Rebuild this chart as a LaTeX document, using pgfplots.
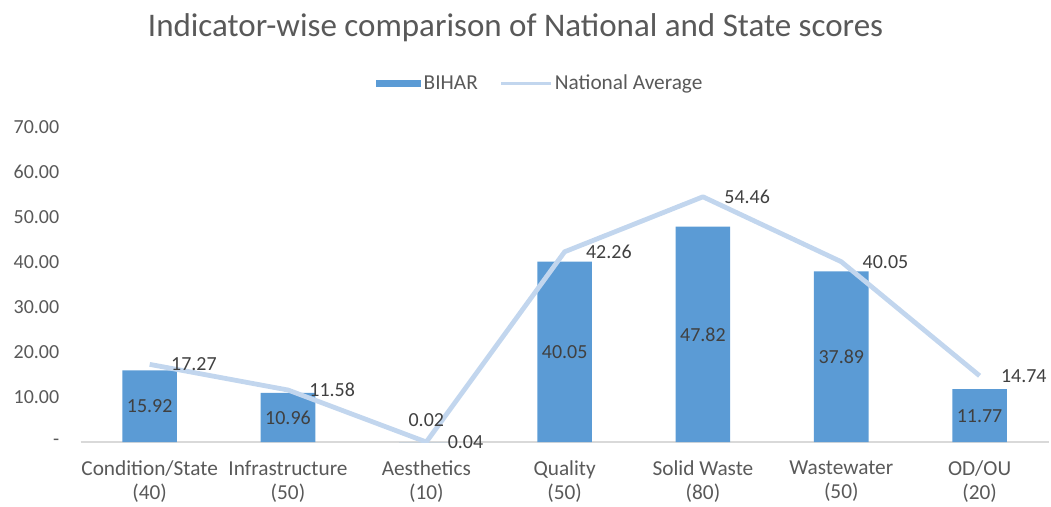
\documentclass[border=0pt]{standalone}
\usepackage{fontspec}
\setmainfont{Carlito}
\usepackage{pgfplots}
\pgfplotsset{compat=1.18}
\definecolor{barblue}{HTML}{5B9BD5}
\definecolor{lineblue}{HTML}{C2D6EE}
\definecolor{txt}{HTML}{595959}
\definecolor{lbl}{HTML}{404040}
\definecolor{axgray}{HTML}{D9D9D9}
\newcommand{\lblfont}{\fontsize{15}{18}\selectfont}
\newcommand{\catfont}{\fontsize{16}{18}\selectfont}

\begin{document}
\begin{tikzpicture}
\begin{axis}[
  at={(0,0)}, anchor=south west,
  scale only axis, width=727.5pt, height=237pt,
  xmin=-0.5, xmax=6.5, ymin=0, ymax=70,
  axis x line*=bottom, axis y line*=left,
  x axis line style={draw=axgray, line width=1.1pt},
  y axis line style={draw=none},
  major tick length=0pt,
  xtick={0,...,6},
  xticklabels={{Condition/State\\(40)},{Infrastructure\\(50)},{Aesthetics\\(10)},
    {Quality\\(50)},{Solid Waste\\(80)},{Wastewater\\(50)},{OD/OU\\(20)}},
  ytick={0,10,...,70},
  yticklabels={{\hphantom{00.0}-\hspace{7.5pt}},10.00,20.00,30.00,40.00,50.00,60.00,70.00},
  tick label style={font=\lblfont, text=txt},
  xticklabel style={align=center, font=\catfont, yshift=-10.5pt},
  yticklabel style={anchor=east, xshift=-12.5pt},
  /pgf/number format/fixed, /pgf/number format/zerofill,
  /pgf/number format/precision=2, /pgf/number format/assume math mode=true,
  legend style={at={(0.475,1.138)}, anchor=center, draw=none, fill=none,
    legend columns=2, font=\catfont, text=txt, inner sep=0pt,
    /tikz/every even column/.append style={column sep=14.5pt}},
  legend cell align=left,
]
% BIHAR bars, labels centred in the bar
\addplot[ybar, bar width=41pt, fill=barblue, draw=none,
  legend image code/.code={\fill[barblue] (0pt,-2.6pt) rectangle (34pt,2.6pt);},
  nodes near coords,
  visualization depends on={y \as \rawy},
  every node near coord/.append style={font=\lblfont, text=lbl, anchor=center,
    shift={(axis direction cs:0,{\rawy<1 ? 4.9 : -\rawy/2})}}]
  coordinates {(0,15.92) (1,10.96) (2,0.02) (3,40.05) (4,47.82) (5,37.89) (6,11.77)};
\addlegendentry{BIHAR}
% National average line, labels to the right
\addplot[lineblue, line width=3.6pt, line join=round, mark=none,
  legend image code/.code={\draw[lineblue, line width=2.4pt] (0pt,0pt) -- (37pt,0pt);},
  nodes near coords,
  every node near coord/.append style={font=\lblfont, text=lbl, anchor=west, xshift=11pt}]
  coordinates {(0,17.27) (1,11.58) (2,0.04) (3,42.26) (4,54.46) (5,40.05) (6,14.74)};
\addlegendentry{National Average}
\end{axis}
\node[font=\fontsize{24.8}{28}\selectfont, text=txt] at (326.9pt,311.5pt)
  {Indicator-wise comparison of National and State scores};
\path (-60.5pt,-47.25pt) rectangle (727.8pt,332.25pt);
\end{tikzpicture}
\end{document}
